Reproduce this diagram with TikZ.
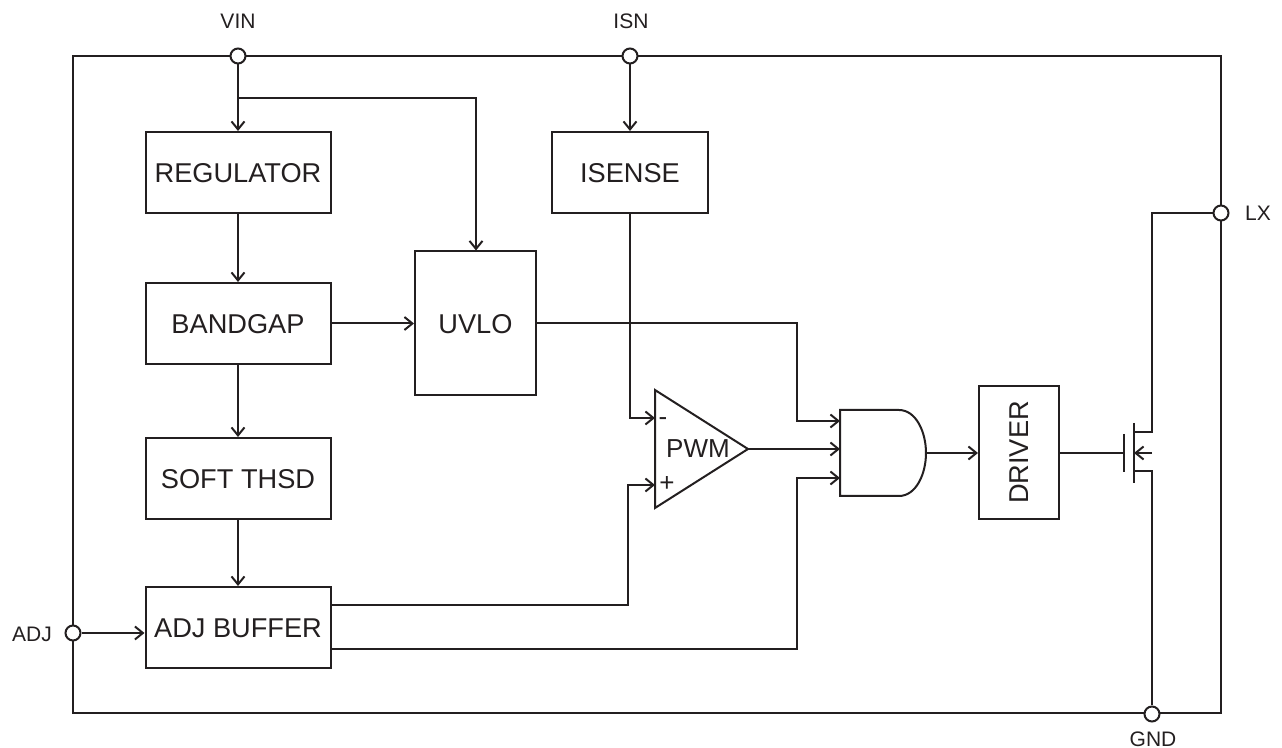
\documentclass[tikz,border=0pt]{standalone}
\usepackage{fontspec}
\setmainfont{Liberation Sans}
\usepackage{tikz}
\usetikzlibrary{arrows.meta,positioning}
\definecolor{ink}{HTML}{231F20}
\tikzset{
    block/.style={
           rectangle,
           draw=ink,
           minimum width=92.5pt,
           minimum height=40.5pt,
           inner sep=0pt,
           text=ink,
           text height=10.4pt,
           text depth=0pt,
           font=\fontsize{13.6}{15}\selectfont
           },
    term/.style={
           circle,
           draw=ink,
           fill=white,
           inner sep=0pt,
           minimum size=7.5pt
           },
    termname/.style={
           inner sep=0pt,
           text=ink,
           font=\fontsize{10.5}{12}\selectfont
           },
    sign/.style={
           inner sep=0pt,
           text=ink,
           font=\fontsize{13}{15}\selectfont
           },
    wire/.style={
           draw=ink,
           line width=1pt
           },
    signal/.style={
           wire,
           -{Straight Barb[length=4pt,width=6.5pt,line width=1pt]}
           }
}
\begin{document}
\begin{tikzpicture}[x=0.5pt,y=-0.5pt,on grid,line width=1pt,line join=miter]
\useasboundingbox (0,0) rectangle (1282,748);
% frame
\node[draw=ink,minimum width=574pt,minimum height=328.5pt,inner sep=0pt] (chip) at (647,384.5) {};
% blocks
\node[block] (reg) at (238,172.5) {REGULATOR};
\node[block] (bandgap)[below=75.5pt of reg] {BANDGAP};
\node[block] (soft)[below=77.5pt of bandgap] {SOFT THSD};
\node[block] (buffer)[below=74.5pt of soft] {ADJ BUFFER};
\node[block,minimum width=60.5pt,minimum height=72pt] (uvlo)[right=118.75pt of bandgap] {UVLO};
\node[block,minimum width=78pt] (isense)[right=196pt of reg] {ISENSE};
\node[block,minimum width=40pt,minimum height=66.5pt,text height=,text depth=] (driver) at (1019,452.5) {\rotatebox{90}{DRIVER}};
% pins
\node[term] (vin) at (238,56) {};
\node[term] (isn) at (630,56) {};
\node[term] (lx) at (1221,213) {};
\node[term] (adj) at (73,633) {};
\node[term] (gnd) at (1152,714) {};
\node[termname] (vinname) at (238,21) {VIN};
\node[termname] (isnname) at (631,21) {ISN};
\node[termname] (lxname) at (1258,213) {LX};
\node[termname] (adjname) at (32,634) {ADJ};
\node[termname] (gndname) at (1153,739) {GND};
% comparator
\coordinate (pwma) at (655,390);
\coordinate (pwmb) at (655,508);
\coordinate (pwmout) at (748,449);
\coordinate (pwmneg) at (655,418);
\coordinate (pwmpos) at (655,485);
\draw[wire] (pwma) -- (pwmout) -- (pwmb) -- cycle;
\node[sign] (pwm) at (698,449) {PWM};
\node[sign] (minus) at (663,422) {-};
\node[sign] (plus) at (667,484) {+};
% and gate
\coordinate (anda) at (840,410);
\coordinate (andb) at (840,496);
\coordinate (andout) at (926,453);
\coordinate (andina) at (840,421);
\coordinate (andinb) at (840,449);
\coordinate (andinc) at (840,478);
\draw[wire] (anda) -- (899,410) .. controls (916,410) and (926,432) .. (andout)
   .. controls (926,474) and (916,496) .. (899,496) -- (andb) -- cycle;
% mosfet
\coordinate (gatea) at (1124,434);
\coordinate (gateb) at (1124,472);
\coordinate (gatemid) at (1124,453);
\coordinate (chana) at (1134,423);
\coordinate (chanb) at (1134,483);
\coordinate (drain) at (1134,432);
\coordinate (source) at (1134,471);
\coordinate (body) at (1152,453);
\coordinate (bodyend) at (1134,453);
\coordinate (vinbranch) at (238,98);
\draw[wire] (gatea) -- (gateb);
\draw[wire] (chana) -- (chanb);
\draw[signal] (body) -- (bodyend);
% connections
\path[every edge/.style={signal}]
    (vin) edge (reg)
    (isn) edge (isense)
    (reg) edge (bandgap)
    (bandgap) edge (soft)
    (soft) edge (buffer)
    (bandgap) edge (uvlo)
    (pwmout) edge (andinb)
    (adj) edge (buffer.west |- adj)
    (andout) edge (driver.west |- andout);
\draw[signal] (isense.south -| isn) |- (pwmneg);
\draw[signal] (uvlo.east) -| (797,421) -- (andina);
\draw[signal] ([yshift=11pt]buffer.east) -| (628,485) -- (pwmpos);
\draw[signal] ([yshift=-11pt]buffer.east) -| (797,478) -- (andinc);
\draw[signal] (vinbranch) -| (uvlo.north -| 476,0);
\draw[wire] (driver.east |- gatemid) -- (gatemid);
\draw[wire] (lx) -| (1152,432) -- (drain);
\draw[wire] (gnd) |- (source);
\end{tikzpicture}
\end{document}
